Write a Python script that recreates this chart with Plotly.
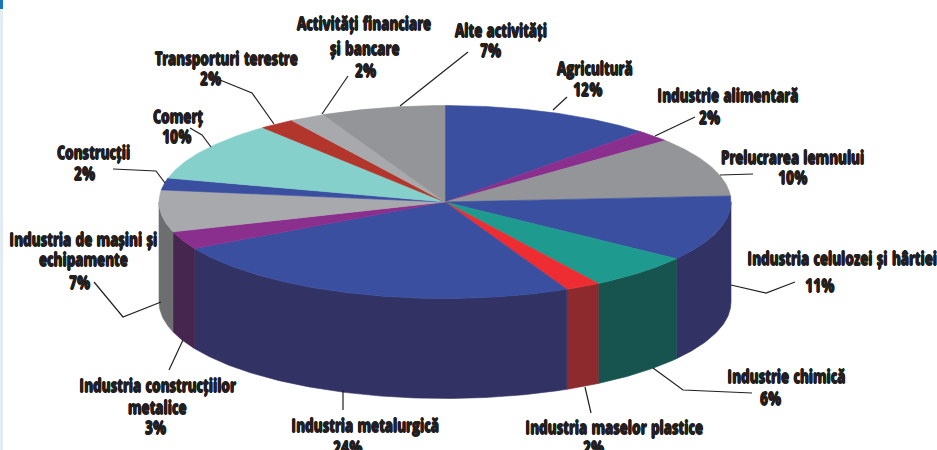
import numpy as np
import plotly.graph_objects as go

# ---- data ----
categories = ["Agricultură", "Industrie alimentară", "Prelucrarea lemnului",
              "Industria celulozei și hârtiei", "Industrie chimică",
              "Industria maselor plastice", "Industria metalurgică",
              "Industria construcțiilor metalice", "Industria de mașini și echipamente",
              "Construcții", "Comerț", "Transporturi terestre",
              "Activități financiare și bancare", "Alte activități"]
values = [12, 2, 10, 11, 6, 2, 24, 3, 7, 2, 10, 2, 2, 7]
label_lines = [["Agricultură"], ["Industrie alimentară"], ["Prelucrarea lemnului"],
               ["Industria celulozei și hârtiei"], ["Industrie chimică"],
               ["Industria maselor plastice"], ["Industria metalurgică"],
               ["Industria construcțiilor", "metalice"], ["Industria de mașini și", "echipamente"],
               ["Construcții"], ["Comerț"], ["Transporturi terestre"],
               ["Activități financiare", "și bancare"], ["Alte activități"]]

# ---- styles ----
top_colors = ["#3B4FA1", "#8B2F8F", "#939598", "#3B4FA1", "#1F9A8F", "#EE2D32", "#3B4FA1",
              "#8B2F8F", "#A7A9AC", "#3B4FA1", "#86D0CC", "#B2362B", "#A7A9AC", "#939598"]
side_colors = ["#323264", "#46254F", "#6D6E70", "#323264", "#17544F", "#8C2A2E", "#323264",
               "#46254F", "#6D6E70", "#323264", "#4F8F8C", "#7A2A22", "#6D6E70", "#6D6E70"]
CX, CY, RX, RY, DEPTH = 445, 202, 286, 96.5, 100
TEXT = "#231F20"

# one (x, y) per name line, then (x, y) of the percentage
name_pos = [[(595, 68)], [(727, 95)], [(792, 157)], [(842, 258)], [(786, 376)], [(614, 427)], [(365, 425)],
            [(157, 385), (157, 407)], [(83, 239), (83, 259)], [(93, 152)], [(178, 116)], [(226, 58)],
            [(364, 23), (364, 48)], [(501, 30)]]
pct_pos = [(587, 89), (709, 117), (792, 177), (819, 285), (770, 398), (593, 447), (347, 447),
           (155, 427), (79, 282), (84, 173), (176, 136), (210, 78), (365, 70), (490, 50)]
leaders = [[(567, 97), (553, 110)], [(695, 117), (655, 136)], [(753, 174), (720, 175)],
           [(795, 282), (766, 293), (731, 285)], [(752, 393), (683, 390), (653, 368)],
           [(591, 413), (585, 387)], [(343, 410), (343, 390)], [(169, 370), (183, 340)],
           [(94, 282), (123, 317), (161, 302)], [(113, 169), (156, 171), (165, 183)],
           [(190, 128), (202, 135), (211, 147)], [(220, 80), (252, 93), (274, 124)],
           [(348, 76), (322, 114)], [(468, 52), (400, 106)]]

# ---- geometry derived from the values ----
edges = np.cumsum([0] + values) / sum(values) * 2 * np.pi


def arc(t0, t1, dy=0.0):
    t = np.linspace(t0, t1, max(int((t1 - t0) * 120), 2))
    return CX + RX * np.sin(t), CY - RY * np.cos(t) + dy


fig = go.Figure()


def add_poly(x, y, color, name):
    fig.add_trace(go.Scatter(x=x, y=y, mode="lines", fill="toself", fillcolor=color,
                             line=dict(color=color, width=0.6), name=name,
                             hoverinfo="name", showlegend=False))


# walls: only the front half of the rim is visible
for i, name in enumerate(categories):
    a, b = max(edges[i], np.pi / 2), min(edges[i + 1], 3 * np.pi / 2)
    if a < b:
        xt, yt = arc(a, b)
        xb, yb = arc(a, b, DEPTH)
        add_poly(np.r_[xt, xb[::-1], xt[0]], np.r_[yt, yb[::-1], yt[0]], side_colors[i], name)

# top face
for i, name in enumerate(categories):
    xt, yt = arc(edges[i], edges[i + 1])
    add_poly(np.r_[CX, xt, CX], np.r_[CY, yt, CY], top_colors[i], name)

annotations = []
FONT = dict(family="Open Sans Condensed, Roboto Condensed, Liberation Sans", size=17.5, color=TEXT,
            weight="bold",
            shadow=f"0.5px 0 0 {TEXT}, -0.5px 0 0 {TEXT}, 0 0.8px 0 {TEXT}, 0 -0.8px 0 {TEXT}")
for lines, v, positions, (px, py) in zip(label_lines, values, name_pos, pct_pos):
    for line, (nx, ny) in zip(lines, positions):
        annotations.append(dict(x=nx, y=ny, text=line, showarrow=False, xanchor="center",
                                yanchor="middle", font=FONT))
    annotations.append(dict(x=px, y=py, text=f"{v}%", showarrow=False, xanchor="center",
                            yanchor="middle", font=FONT))

shapes = []
for pts in leaders:
    path = "M " + " L ".join(f"{x},{y}" for x, y in pts)
    shapes.append(dict(type="path", path=path, line=dict(color=TEXT, width=1.2), layer="above"))
# page edge strip at the left of the scan
shapes.append(dict(type="rect", x0=0, x1=3, y0=0, y1=450, fillcolor="#E4ECF3", line_width=0, layer="below"))
shapes.append(dict(type="rect", x0=0, x1=3, y0=0, y1=9, fillcolor="#1B75BC", line_width=0, layer="below"))

fig.update_layout(
    width=937, height=450, autosize=False,
    margin=dict(l=0, r=0, t=0, b=0),
    paper_bgcolor="white", plot_bgcolor="white",
    xaxis=dict(range=[0, 937], visible=False, fixedrange=True),
    yaxis=dict(range=[450, 0], visible=False, fixedrange=True),
    annotations=annotations, shapes=shapes, showlegend=False,
)
fig.write_html("out.html", config=dict(displayModeBar=False),
               post_script="document.body.style.margin='0';")
